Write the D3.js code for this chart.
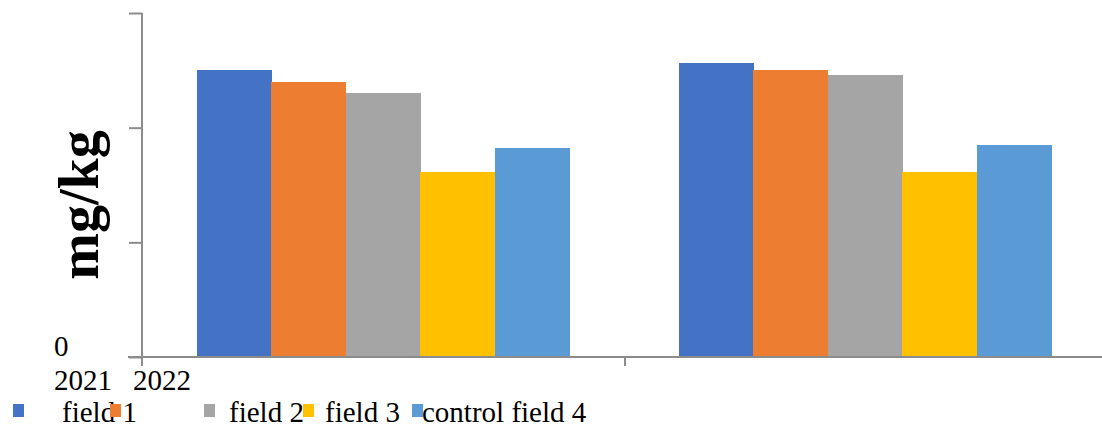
<!DOCTYPE html>
<html>
<head>
<meta charset="utf-8">
<script src="https://cdn.jsdelivr.net/npm/d3@7"></script>
<style>
  html, body { margin: 0; padding: 0; background: #fff; }
  svg text { font-family: "Liberation Serif", "Times New Roman", serif; fill: #000; }
</style>
</head>
<body>
<svg id="chart" width="1102" height="425"></svg>
<script>
// ---- data ----
const categories = ["2021", "2022"];
const seriesNames = ["field 1", "field 2", "field 3", "control field 4"];
const seriesKeys = ["field1", "field2", "field3", "field3b", "control4"];
const seriesColors = ["#4472C4", "#ED7D31", "#A5A5A5", "#FFC000", "#5B9BD5"];
const values2021 = [25.0, 24.0, 23.0, 16.1, 18.2];
const values2022 = [25.6, 25.0, 24.6, 16.1, 18.5];
const yTicks = [0, 10, 20, 30];
const yTickLabels = ["0", "", "", ""];

const svg = d3.select("#chart");
const W = 1102, H = 425;
const x0 = 143, x1 = 1107, yBase = 357, yTop = 13;

const y = d3.scaleLinear().domain([0, 30]).range([yBase, yTop]);
const xBand = d3.scaleBand().domain(categories).range([x0, x1])
  .paddingInner(0.228).paddingOuter(0.114);
const xSub = d3.scaleBand().domain(seriesKeys).range([0, xBand.bandwidth()]);
const axisColor = "#8c8c8c";

const rows = categories.map((c, i) => ({ cat: c, vals: [values2021, values2022][i] }));

// bars
const g = svg.append("g").attr("shape-rendering", "crispEdges");
rows.forEach(r => {
  g.selectAll(null).data(r.vals).enter().append("rect")
    .attr("x", (d, i) => xBand(r.cat) + xSub(seriesKeys[i]) - 1)
    .attr("y", d => y(d))
    .attr("width", xSub.bandwidth() + 0.5)
    .attr("height", d => yBase - y(d))
    .attr("fill", (d, i) => seriesColors[i]);
});

// y axis
const yAxis = d3.axisLeft(y).tickValues(yTicks).tickFormat("").tickSize(13).tickSizeOuter(0);
const ya = svg.append("g").attr("transform", `translate(${x0 - 1},0)`).call(yAxis);
ya.select(".domain").attr("stroke", axisColor).attr("stroke-width", 2)
  .attr("d", `M0,${yTop}V${yBase + 9}`);
ya.selectAll(".tick line").attr("stroke", axisColor).attr("stroke-width", 2);

// x axis line + ticks at band boundaries
svg.append("line").attr("x1", 128).attr("x2", W).attr("y1", yBase).attr("y2", yBase)
  .attr("stroke", axisColor).attr("stroke-width", 2);
const boundaries = categories.map(c => xBand(c) - xBand.step() * 0.114).slice(1);
svg.selectAll(null).data(boundaries).enter().append("line")
  .attr("x1", d => d).attr("x2", d => d)
  .attr("y1", yBase).attr("y2", yBase + 9)
  .attr("stroke", axisColor).attr("stroke-width", 2);

// y tick label "0"
svg.append("text").attr("x", 54).attr("y", 356).attr("font-size", 29).text(yTickLabels[0]);

// category labels (rendered together at the left as in reference)
const catX = [54, 133];
svg.selectAll(null).data(categories).enter().append("text")
  .attr("x", (d, i) => catX[i]).attr("y", 390).attr("font-size", 29)
  .text(d => d);

// y axis title
svg.append("text")
  .attr("transform", "translate(98,205) rotate(-90)")
  .attr("text-anchor", "middle")
  .attr("font-size", 56).attr("font-weight", "bold")
  .text("mg/kg");

// legend
const markerX = [13, 110, 204, 303, 412];
const textX = [62, 229, 325, 422];
svg.selectAll(null).data(textX).enter().append("text")
  .attr("x", d => d).attr("y", 422).attr("font-size", 29)
  .text((d, i) => seriesNames[i]);
svg.selectAll(null).data(markerX).enter().append("rect")
  .attr("x", d => d).attr("y", 404).attr("width", 11).attr("height", 13)
  .attr("fill", (d, i) => seriesColors[i]);
</script>
</body>
</html>
